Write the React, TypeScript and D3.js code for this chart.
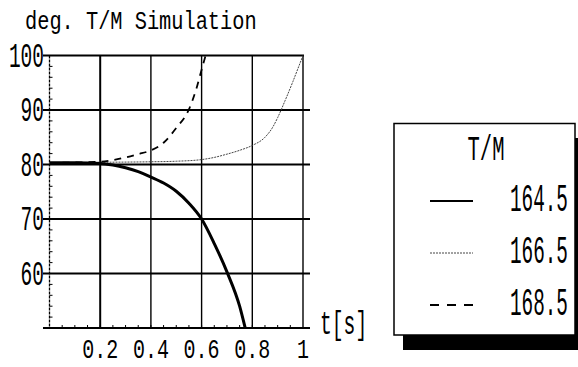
import { useEffect, useRef } from 'react';
import * as d3 from 'd3';

// T/M simulation curves (t in seconds, angle in degrees)
const tSolid = [0, 0.1, 0.2, 0.25, 0.3, 0.35, 0.4, 0.45, 0.5, 0.55, 0.6, 0.65, 0.7, 0.75, 0.772];
const vSolid = [80.3, 80.3, 80.2, 79.9, 79.4, 78.7, 77.7, 76.6, 75.1, 72.9, 70.0, 65.5, 60.3, 54.0, 50];

const tThin = [0, 0.2, 0.4, 0.5, 0.6, 0.65, 0.7, 0.75, 0.8, 0.85, 0.88, 0.9, 0.93, 0.96, 0.98, 1.0];
const vThin = [80.3, 80.4, 80.5, 80.6, 80.9, 81.3, 81.9, 82.6, 83.5, 85.0, 86.8, 88.6, 91.8, 95.2, 97.6, 100];

const tDash = [0, 0.2, 0.25, 0.3, 0.35, 0.4, 0.45, 0.5, 0.55, 0.58, 0.6, 0.616];
const vDash = [80.3, 80.5, 80.8, 81.3, 81.9, 82.6, 84.0, 86.7, 90.1, 94.0, 97.4, 100];

const xTicks = [0.2, 0.4, 0.6, 0.8, 1];
const xTickLabels = ['0.2', '0.4', '0.6', '0.8', '1'];
const yTicks = [60, 70, 80, 90, 100];
const legendTitle = 'T/M';
const legendLabels = ['164.5', '166.5', '168.5'];

const FONT = '"Liberation Mono", "DejaVu Sans Mono", monospace';

type Sel = d3.Selection<any, unknown, null, undefined>;

// condensed monospace text: glyphs squeezed horizontally to charW px each
function addText(g: Sel, x: number, y: number, s: string, size: number, charW: number, anchor = 'start') {
  const sx = charW / (size * 0.6);
  g.append('text')
    .attr('transform', `translate(${x},${y}) scale(${sx},1)`)
    .attr('text-anchor', anchor)
    .attr('font-family', FONT)
    .attr('font-size', size)
    .text(s);
}

export default function App() {
  const svgRef = useRef<SVGSVGElement>(null);

  useEffect(() => {
    if (!svgRef.current) return;
    const svg = d3.select(svgRef.current);
    svg.selectAll('*').remove();

    const x = d3.scaleLinear().domain([0, 1]).range([49.5, 303]);
    const y = d3.scaleLinear().domain([50, 100]).range([328, 55.5]);

    // Title
    addText(svg, 25, 29, 'deg. T/M Simulation', 25, 12.2);

    // Grid
    const grid = svg.append('g').attr('stroke', '#000');
    yTicks.forEach(v => {
      grid.append('line')
        .attr('x1', 43).attr('x2', v === 100 ? 304 : 310)
        .attr('y1', y(v)).attr('y2', y(v))
        .attr('stroke-width', 2);
    });
    xTicks.forEach(t => {
      grid.append('line')
        .attr('x1', x(t)).attr('x2', x(t))
        .attr('y1', y(100)).attr('y2', y(50))
        .attr('stroke-width', t === 0.2 ? 2 : 1.4);
    });
    // left axis (dotted look)
    grid.append('line')
      .attr('x1', x(0)).attr('x2', x(0))
      .attr('y1', y(100)).attr('y2', y(50))
      .attr('stroke-width', 1.3).attr('stroke-dasharray', '3,1');
    // bottom axis
    grid.append('line')
      .attr('x1', 43).attr('x2', 310)
      .attr('y1', y(50)).attr('y2', y(50))
      .attr('stroke-width', 2);

    // minor ticks
    d3.range(0.05, 1, 0.05).forEach(t => {
      grid.append('line')
        .attr('x1', x(t)).attr('x2', x(t))
        .attr('y1', y(50)).attr('y2', y(50) - 3)
        .attr('stroke-width', 1);
    });
    d3.range(52, 100, 2).forEach(v => {
      grid.append('line')
        .attr('x1', x(0)).attr('x2', x(0) + 3)
        .attr('y1', y(v)).attr('y2', y(v))
        .attr('stroke-width', 1);
    });

    // Y tick labels
    yTicks.forEach(v => {
      addText(svg, 44, y(v) + 11, String(v), 35, 11.7, 'end');
    });

    // X tick labels
    xTicks.forEach((t, i) => {
      addText(svg, x(t), 358, xTickLabels[i], 28, 12, 'middle');
    });

    addText(svg, 320, 334, 't[s]', 33, 11.8);

    // Curves
    const clip = svg.append('defs').append('clipPath').attr('id', 'plot');
    clip.append('rect')
      .attr('x', x(0)).attr('y', y(100) - 2)
      .attr('width', x(1) - x(0) + 2).attr('height', y(50) - y(100) + 2);

    const line = d3.line<[number, number]>()
      .x(d => x(d[0])).y(d => y(d[1]))
      .curve(d3.curveMonotoneX);

    const curves = svg.append('g').attr('clip-path', 'url(#plot)').attr('fill', 'none');
    curves.append('path')
      .attr('d', line(tThin.map((t, i) => [t, vThin[i]] as [number, number])))
      .attr('stroke', '#444').attr('stroke-width', 1).attr('stroke-dasharray', '2,1');
    curves.append('path')
      .attr('d', line(tDash.map((t, i) => [t, vDash[i]] as [number, number])))
      .attr('stroke', '#000').attr('stroke-width', 1.8).attr('stroke-dasharray', '7,6');
    curves.append('path')
      .attr('d', line(tSolid.map((t, i) => [t, vSolid[i]] as [number, number])))
      .attr('stroke', '#000').attr('stroke-width', 3);

    // Legend
    const lg = svg.append('g');
    lg.append('rect')
      .attr('x', 403).attr('y', 138).attr('width', 185).attr('height', 212)
      .attr('fill', '#000');
    lg.append('rect')
      .attr('x', 394).attr('y', 123.5).attr('width', 181).attr('height', 211.5)
      .attr('fill', '#fff').attr('stroke', '#000').attr('stroke-width', 1.5);
    addText(lg, 486, 160, legendTitle, 35, 12.3, 'middle');

    const rowY = [201, 253, 305];
    const styles = [
      { w: 2, dash: null, c: '#000' },
      { w: 1, dash: '2,1', c: '#444' },
      { w: 2, dash: '9,8', c: '#000' },
    ];
    legendLabels.forEach((lab, i) => {
      const l = lg.append('line')
        .attr('x1', 430).attr('x2', 473)
        .attr('y1', rowY[i]).attr('y2', rowY[i])
        .attr('stroke', styles[i].c).attr('stroke-width', styles[i].w);
      if (styles[i].dash) l.attr('stroke-dasharray', styles[i].dash);
      addText(lg, 510, rowY[i] + 10, lab, 38, 11.6);
    });
  }, []);

  return (
    <svg
      ref={svgRef}
      width={578}
      height={367}
      style={{ position: 'absolute', left: 0, top: 0, background: '#fff' }}
    />
  );
}
